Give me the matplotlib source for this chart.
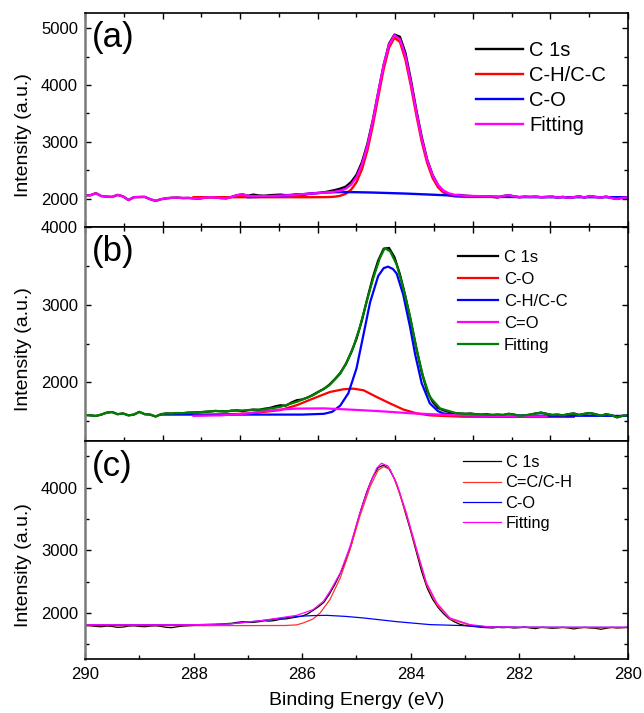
import numpy as np
import matplotlib
matplotlib.use("Agg")
import matplotlib.pyplot as plt
from matplotlib.ticker import MultipleLocator, FixedLocator, NullFormatter

plt.rcParams['font.family'] = ['Liberation Sans', 'DejaVu Sans']

# ---------------- raw data grid (0.1 eV step) ----------------
E_raw = np.round(np.arange(290.0, 279.95, -0.1), 1)

raw_a = [2058, 2060, 2095, 2045, 2035, 2030, 2065, 2040, 1975, 2025,
         2028, 2030, 1990, 1960, 1990, 2005, 2015, 2018, 2010, 2012,
         2005, 2000, 2015, 2025, 2020, 2010, 2005, 2030, 2060, 2075,
         2050, 2070, 2055, 2050, 2060, 2065, 2070, 2060, 2065, 2075,
         2060, 2080, 2095, 2100, 2110, 2130, 2150, 2175, 2210, 2290,
         2420, 2640, 2960, 3380, 3870, 4350, 4730, 4890, 4850, 4570,
         4100, 3570, 3090, 2690, 2420, 2240, 2130, 2075, 2060, 2065,
         2050, 2045, 2040, 2035, 2040, 2030, 2020, 2045, 2060, 2040,
         2025, 2035, 2030, 2035, 2025, 2030, 2035, 2020, 2030, 2015,
         2025, 2040, 2020, 2045, 2030, 2020, 2035, 2010, 1995, 2015,
         2020]

raw_b = [1580, 1575, 1568, 1585, 1610, 1618, 1590, 1600, 1575, 1585,
         1620, 1590, 1585, 1560, 1590, 1600, 1598, 1605, 1603, 1610,
         1612, 1615, 1620, 1625, 1632, 1628, 1625, 1635, 1640, 1628,
         1642, 1650, 1645, 1660, 1670, 1690, 1705, 1700, 1740, 1770,
         1780, 1805, 1840, 1880, 1915, 1970, 2040, 2120, 2230, 2380,
         2560, 2800, 3080, 3350, 3570, 3720, 3730, 3610, 3390, 3110,
         2790, 2450, 2130, 1890, 1750, 1670, 1640, 1620, 1605, 1600,
         1595, 1600, 1590, 1585, 1590, 1580, 1585, 1580, 1595, 1585,
         1570, 1575, 1585, 1600, 1610, 1595, 1580, 1585, 1575, 1590,
         1600, 1580, 1595, 1605, 1590, 1570, 1590, 1575, 1550, 1570,
         1575]

raw_c = [1800, 1795, 1785, 1780, 1790, 1785, 1770, 1775, 1790, 1795,
         1785, 1780, 1790, 1795, 1785, 1770, 1765, 1780, 1790, 1795,
         1800, 1805, 1800, 1810, 1815, 1820, 1830, 1835, 1850, 1860,
         1855, 1850, 1860, 1875, 1870, 1880, 1900, 1905, 1920, 1935,
         1950, 1985, 2040, 2100, 2170, 2300, 2450, 2630, 2830, 3080,
         3400, 3700, 3960, 4170, 4320, 4360, 4300, 4140, 3900, 3600,
         3300, 2980, 2660, 2400, 2220, 2090, 1990, 1910, 1860, 1820,
         1800, 1790, 1780, 1770, 1765, 1760, 1770, 1765, 1770, 1760,
         1765, 1775, 1760, 1750, 1770, 1765, 1755, 1760, 1770, 1760,
         1745, 1760, 1770, 1760, 1755, 1740, 1755, 1770, 1760, 1765,
         1770]

# ---------------- panel (a) fitted components ----------------
E_a_red = [288.0, 287.5, 287.0, 286.6, 286.2, 285.9, 285.6, 285.5, 285.4, 285.3,
           285.2, 285.1, 285.0, 284.9, 284.8, 284.7, 284.6, 284.5, 284.4, 284.3,
           284.2, 284.1, 284.0, 283.9, 283.8, 283.7, 283.6, 283.5, 283.4, 283.3,
           283.2, 283.0, 282.7, 282.4]
I_a_red = [2025, 2025, 2025, 2025, 2025, 2025, 2026, 2028, 2034, 2050,
           2084, 2157, 2290, 2515, 2847, 3286, 3790, 4283, 4661, 4835,
           4759, 4454, 3995, 3483, 3010, 2633, 2367, 2201, 2108, 2060,
           2039, 2030, 2030, 2030]

E_a_blue = [287.0, 286.6, 286.2, 285.9, 285.6, 285.5, 285.4, 285.3, 285.2, 285.1,
            285.0, 284.9, 284.8, 284.7, 284.6, 284.5, 284.4, 284.3, 284.2, 284.1,
            284.0, 283.9, 283.8, 283.7, 283.6, 283.5, 283.4, 283.3, 283.2, 283.0,
            282.7, 282.4, 282.0, 281.5, 281.0, 280.5, 280.0]
I_a_blue = [2025, 2035, 2060, 2085, 2105, 2110, 2113, 2115, 2115, 2114,
            2113, 2111, 2109, 2107, 2104, 2101, 2098, 2095, 2092, 2089,
            2085, 2081, 2077, 2073, 2069, 2065, 2061, 2057, 2053, 2045,
            2037, 2031, 2027, 2025, 2025, 2025, 2025]

E_a_fit = [287.0, 286.6, 286.2, 285.9, 285.6, 285.5, 285.4, 285.3, 285.2, 285.1,
           285.0, 284.9, 284.8, 284.7, 284.6, 284.5, 284.4, 284.3, 284.2, 284.1,
           284.0, 283.9, 283.8, 283.7, 283.6, 283.5, 283.4, 283.3, 283.2, 283.0,
           282.7, 282.4]
I_a_fit = [2045, 2045, 2060, 2085, 2106, 2113, 2122, 2140, 2174, 2246,
           2378, 2601, 2931, 3368, 3869, 4359, 4715, 4880, 4805, 4518,
           4055, 3539, 3062, 2681, 2411, 2241, 2144, 2092, 2067, 2050,
           2042, 2036]

# ---------------- panel (b) fitted components ----------------
E_b_co = [288.0, 287.5, 286.96, 286.41, 286.1, 285.8, 285.49, 285.24, 285.06, 284.87,
          284.63, 284.38, 284.14, 283.89, 283.65, 283.03, 282.0, 281.0]
I_b_co = [1575, 1585, 1600, 1642, 1706, 1791, 1876, 1911, 1919, 1898,
          1812, 1728, 1651, 1600, 1575, 1557, 1555, 1555]

E_b_ch = [288.6, 287.0, 286.0, 285.6, 285.45, 285.3, 285.15, 285.0, 284.87, 284.75,
          284.6, 284.5, 284.42, 284.33, 284.26, 284.14, 284.01, 283.92, 283.8, 283.65,
          283.5, 283.4, 283.1, 282.5, 281.0, 280.0]
I_b_ch = [1585, 1585, 1585, 1595, 1620, 1700, 1860, 2180, 2620, 3030,
          3370, 3470, 3490, 3460, 3400, 3130, 2700, 2360, 1990, 1730,
          1630, 1600, 1580, 1572, 1570, 1568]

E_b_c2o = [288.0, 287.5, 287.0, 286.7, 286.4, 286.1, 285.6, 285.2, 284.6, 284.0,
           283.3, 282.5, 281.5]
I_b_c2o = [1570, 1575, 1600, 1630, 1650, 1662, 1665, 1652, 1630, 1602,
           1580, 1567, 1562]

E_b_fit = [287.3, 286.7, 286.4, 286.1, 285.8, 285.5, 285.3, 285.18, 285.06, 284.94,
           284.81, 284.69, 284.57, 284.48, 284.38, 284.26, 284.14, 284.01, 283.89, 283.77,
           283.65, 283.46, 283.15, 282.5]
I_b_fit = [1632, 1651, 1685, 1749, 1834, 1962, 2111, 2259, 2451, 2706,
           3047, 3345, 3600, 3728, 3686, 3516, 3217, 2834, 2409, 2068,
           1812, 1664, 1600, 1580]

# ---------------- panel (c) fitted components ----------------
E_c_red = [290.0, 287.0, 286.3, 286.1, 285.98, 285.8, 285.67, 285.49, 285.3, 285.12,
           284.94, 284.75, 284.6, 284.5, 284.38, 284.26, 284.08, 283.89, 283.71, 283.52,
           283.28, 282.91, 282.54, 282.0, 281.0, 280.0]
I_c_red = [1798, 1798, 1800, 1810, 1841, 1904, 2000, 2212, 2557, 3008,
           3538, 4016, 4282, 4335, 4293, 4043, 3565, 2981, 2451, 2132,
           1904, 1803, 1771, 1768, 1766, 1766]

E_c_blue = [290.0, 288.0, 287.33, 286.72, 286.1, 285.8, 285.55, 285.2, 284.87, 284.26,
            283.65, 283.03, 282.54, 282.0, 280.0]
I_c_blue = [1810, 1812, 1825, 1880, 1945, 1958, 1962, 1945, 1920, 1861,
            1814, 1798, 1777, 1772, 1770]

E_c_fit = [290.0, 289.0, 288.0, 287.33, 286.72, 286.1, 285.8, 285.61, 285.49, 285.3,
           285.12, 284.94, 284.75, 284.63, 284.54, 284.42, 284.26, 284.08, 283.89, 283.71,
           283.52, 283.28, 282.91, 282.54, 282.0, 281.0, 280.0]
I_c_fit = [1812, 1810, 1812, 1825, 1882, 1962, 2053, 2185, 2344, 2637,
           3061, 3592, 4070, 4309, 4389, 4346, 4070, 3592, 3008, 2478,
           2159, 1920, 1814, 1777, 1772, 1770, 1772]

# ---------------- figure ----------------
fig = plt.figure(figsize=(6.44, 7.13), dpi=100)
L, W = 85 / 644, 543 / 644
ax_a = fig.add_axes([L, 1 - 227 / 713, W, 214 / 713])
ax_b = fig.add_axes([L, 1 - 441 / 713, W, 214 / 713])
ax_c = fig.add_axes([L, 1 - 659 / 713, W, 218 / 713])

E_raw_arr = np.array(E_raw)
raw_a = np.array(raw_a); raw_b = np.array(raw_b); raw_c = np.array(raw_c)

# panel a
lw = 1.7
ax_a.plot(E_raw_arr, raw_a, color='black', lw=lw, label='C 1s')
ax_a.plot(E_a_red, I_a_red, color='#ff0000', lw=lw, label='C-H/C-C')
ax_a.plot(E_a_blue, I_a_blue, color='#0000ff', lw=lw, label='C-O')
ax_a.plot(E_a_fit, I_a_fit, color='#ff00ff', lw=lw, label='Fitting')
mL = E_raw_arr >= 286.95
mR = E_raw_arr <= 282.45
ax_a.plot(E_raw_arr[mL], raw_a[mL], color='#ff00ff', lw=lw)
ax_a.plot(E_raw_arr[mR], raw_a[mR], color='#ff00ff', lw=lw)

# panel b
lw = 1.6
ax_b.plot(E_raw_arr, raw_b, color='black', lw=lw, label='C 1s')
ax_b.plot(E_b_co, I_b_co, color='#ff0000', lw=lw, label='C-O')
ax_b.plot(E_b_ch, I_b_ch, color='#0000ff', lw=lw, label='C-H/C-C')
ax_b.plot(E_b_c2o, I_b_c2o, color='#ff00ff', lw=lw, label='C=O')
ax_b.plot(E_b_fit, I_b_fit, color='#008000', lw=lw, label='Fitting')
mL = E_raw_arr >= 287.25
mR = E_raw_arr <= 282.55
ax_b.plot(E_raw_arr[mL], raw_b[mL], color='#008000', lw=lw)
ax_b.plot(E_raw_arr[mR], raw_b[mR], color='#008000', lw=lw)

# panel c
lw = 0.9
ax_c.plot(E_raw_arr, raw_c, color='black', lw=lw, label='C 1s')
ax_c.plot(E_c_red, I_c_red, color='#ff3030', lw=lw, label='C=C/C-H')
ax_c.plot(E_c_blue, I_c_blue, color='#0000ff', lw=lw, label='C-O')
ax_c.plot(E_c_fit, I_c_fit, color='#ff00ff', lw=lw, label='Fitting')

# axes styling
ylims = [(1500, 5270), (1245, 4000), (1265, 4745)]
for ax, yl in zip([ax_a, ax_b, ax_c], ylims):
    ax.set_xlim(290, 280)
    ax.set_ylim(*yl)
    ax.yaxis.set_major_locator(MultipleLocator(1000))
    ax.yaxis.set_minor_locator(MultipleLocator(500))
    for s in ['top', 'right', 'bottom']:
        ax.spines[s].set_linewidth(1.2)
        ax.spines[s].set_color('black')
    ax.spines['left'].set_linewidth(1.8)
    ax.spines['left'].set_color('#7a7a7a')
    ax.tick_params(which='both', direction='in', right=True, labelsize=12, width=1.0)
    ax.tick_params(which='major', length=4.5)
    ax.tick_params(which='minor', length=3)
    ax.tick_params(axis='y', pad=5)
    ax.set_ylabel('Intensity (a.u.)', fontsize=14)
    ax.yaxis.set_label_coords(-0.097, 0.43)

ticks14 = [290 - i * 10 / 14 for i in range(15)]
for ax in [ax_a, ax_b]:
    ax.xaxis.set_major_locator(FixedLocator(ticks14[::2]))
    ax.xaxis.set_minor_locator(FixedLocator(ticks14[1::2]))
    ax.xaxis.set_major_formatter(NullFormatter())
    ax.tick_params(axis='x', which='both', top=True)

ax_c.xaxis.set_major_locator(MultipleLocator(2))
ax_c.xaxis.set_minor_locator(MultipleLocator(1))
ax_c.tick_params(axis='x', pad=6)
ax_c.set_xlabel('Binding Energy (eV)', fontsize=14, labelpad=7)

# panel letters
for ax, t in zip([ax_a, ax_b, ax_c], ['(a)', '(b)', '(c)']):
    ax.text(0.012, 0.84, t, transform=ax.transAxes, fontsize=25, va='baseline', ha='left')

# legends
ax_a.legend(loc='upper left', bbox_to_anchor=(0.72, 0.871), frameon=False, fontsize=14.5,
            borderpad=0, borderaxespad=0, handlelength=2.35, handletextpad=0.3, labelspacing=0.3)
ax_b.legend(loc='upper left', bbox_to_anchor=(0.687, 0.891), frameon=False, fontsize=12,
            borderpad=0, borderaxespad=0, handlelength=2.4, handletextpad=0.35, labelspacing=0.41)
ax_c.legend(loc='upper left', bbox_to_anchor=(0.696, 0.936), frameon=False, fontsize=11.8,
            borderpad=0, borderaxespad=0, handlelength=2.3, handletextpad=0.3, labelspacing=0.33)

fig.savefig('out.png', dpi=100)
